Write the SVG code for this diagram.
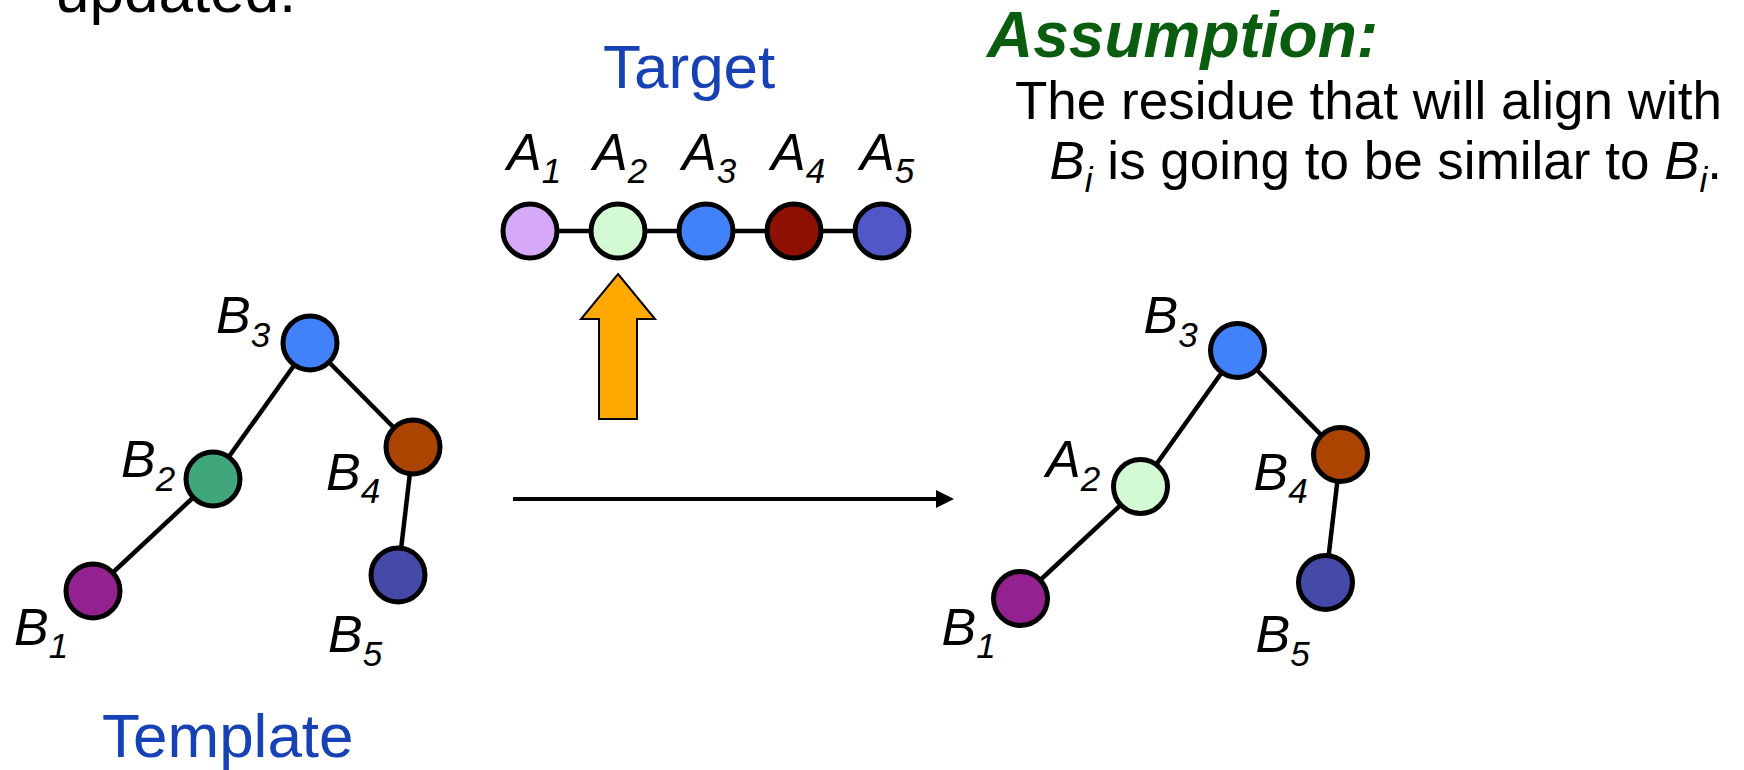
<svg xmlns="http://www.w3.org/2000/svg" width="1744" height="770" viewBox="0 0 1744 770">
  <style>
    text { font-family: "Liberation Sans", Arial, sans-serif; fill: #000; }
    .title { font-size: 62px; fill: #1742b5; }
    .body { font-size: 53px; }
    .lbl { font-size: 52px; font-style: italic; }
    .sub { font-size: 35px; font-style: italic; }
    .isub { font-size: 35px; font-style: italic; }
    .res { stroke: #000; stroke-width: 5; }
    .bond { stroke: #000; stroke-width: 4.5; fill: none; }
  </style>
  <defs>
    <marker id="head" markerUnits="userSpaceOnUse" markerWidth="18" markerHeight="18" refX="0" refY="9" orient="auto">
      <path d="M0,0 L18,9 L0,18 Z" fill="#000"/>
    </marker>
  </defs>

  <rect width="1744" height="770" fill="#fff"/>

  <!-- heading line carried over from above -->
  <text x="55" y="12" style="font-size:62px">updated.</text>

  <!-- assumption note -->
  <text x="987" y="57" style="font-size:64px;font-weight:bold;font-style:italic;fill:#0a5d0f">Assumption:</text>
  <text class="body" x="1722" y="119" text-anchor="end">The residue that will align with</text>
  <text class="body" x="1722" y="179" text-anchor="end"><tspan font-style="italic">B</tspan><tspan class="isub" dy="13">i</tspan><tspan dy="-13"> is going to be similar to </tspan><tspan font-style="italic">B</tspan><tspan class="isub" dy="13">i</tspan><tspan dy="-13">.</tspan></text>

  <text class="title" x="603" y="88">Target</text>
  <text class="title" x="102" y="757">Template</text>

  <g id="connectors">
    <!-- target chain -->
    <line class="bond" x1="530" y1="231" x2="882" y2="231"/>
    <!-- template tree -->
    <line class="bond" x1="310" y1="343" x2="213" y2="479"/>
    <line class="bond" x1="213" y1="479" x2="93" y2="591"/>
    <line class="bond" x1="310" y1="343" x2="413" y2="447"/>
    <line class="bond" x1="413" y1="447" x2="398" y2="575"/>
    <!-- model tree -->
    <line class="bond" x1="1237.5" y1="350.5" x2="1140.5" y2="486.5"/>
    <line class="bond" x1="1140.5" y1="486.5" x2="1020.5" y2="598.5"/>
    <line class="bond" x1="1237.5" y1="350.5" x2="1340.5" y2="454.5"/>
    <line class="bond" x1="1340.5" y1="454.5" x2="1325.5" y2="582.5"/>
    <!-- template to model -->
    <line x1="513" y1="499" x2="936" y2="499" stroke="#000" stroke-width="4" marker-end="url(#head)"/>
    <!-- pick A2 -->
    <polygon points="618,274 655,319 637,319 637,419 599,419 599,319 581,319" fill="#ffa800" stroke="#000" stroke-width="2"/>
  </g>

  <!-- target residues -->
  <g id="A1"><circle class="res" cx="530" cy="231" r="27" fill="#d5a9f8"/><text class="lbl" x="507" y="170">A<tspan class="sub" dy="13">1</tspan></text></g>
  <g id="A2"><circle class="res" cx="618" cy="231" r="27" fill="#d4fad4"/><text class="lbl" x="593" y="170">A<tspan class="sub" dy="13">2</tspan></text></g>
  <g id="A3"><circle class="res" cx="706" cy="231" r="27" fill="#4181fa"/><text class="lbl" x="682" y="170">A<tspan class="sub" dy="13">3</tspan></text></g>
  <g id="A4"><circle class="res" cx="794" cy="231" r="27" fill="#8e1000"/><text class="lbl" x="771" y="170">A<tspan class="sub" dy="13">4</tspan></text></g>
  <g id="A5"><circle class="res" cx="882" cy="231" r="27" fill="#5157c8"/><text class="lbl" x="860" y="170">A<tspan class="sub" dy="13">5</tspan></text></g>

  <!-- template residues -->
  <g id="tB1"><circle class="res" cx="93" cy="591" r="27" fill="#93218f"/><text class="lbl" x="14" y="645">B<tspan class="sub" dy="13">1</tspan></text></g>
  <g id="tB2"><circle class="res" cx="213" cy="479" r="27" fill="#3fa77b"/><text class="lbl" x="121" y="477">B<tspan class="sub" dy="14">2</tspan></text></g>
  <g id="tB3"><circle class="res" cx="310" cy="343" r="27" fill="#4181fa"/><text class="lbl" x="216" y="333">B<tspan class="sub" dy="14">3</tspan></text></g>
  <g id="tB4"><circle class="res" cx="413" cy="447" r="27" fill="#aa4400"/><text class="lbl" x="326" y="490">B<tspan class="sub" dy="13">4</tspan></text></g>
  <g id="tB5"><circle class="res" cx="398" cy="575" r="27" fill="#4549a8"/><text class="lbl" x="328" y="652">B<tspan class="sub" dy="14">5</tspan></text></g>

  <!-- model residues -->
  <g id="mB1"><circle class="res" cx="1020.5" cy="598.5" r="27" fill="#93218f"/><text class="lbl" x="941.5" y="645">B<tspan class="sub" dy="13">1</tspan></text></g>
  <g id="mA2"><circle class="res" cx="1140.5" cy="486.5" r="27" fill="#d4fad4"/><text class="lbl" x="1046" y="477">A<tspan class="sub" dy="14">2</tspan></text></g>
  <g id="mB3"><circle class="res" cx="1237.5" cy="350.5" r="27" fill="#4181fa"/><text class="lbl" x="1143.5" y="333">B<tspan class="sub" dy="14">3</tspan></text></g>
  <g id="mB4"><circle class="res" cx="1340.5" cy="454.5" r="27" fill="#aa4400"/><text class="lbl" x="1253.5" y="490">B<tspan class="sub" dy="13">4</tspan></text></g>
  <g id="mB5"><circle class="res" cx="1325.5" cy="582.5" r="27" fill="#4549a8"/><text class="lbl" x="1255.5" y="652">B<tspan class="sub" dy="14">5</tspan></text></g>
</svg>
